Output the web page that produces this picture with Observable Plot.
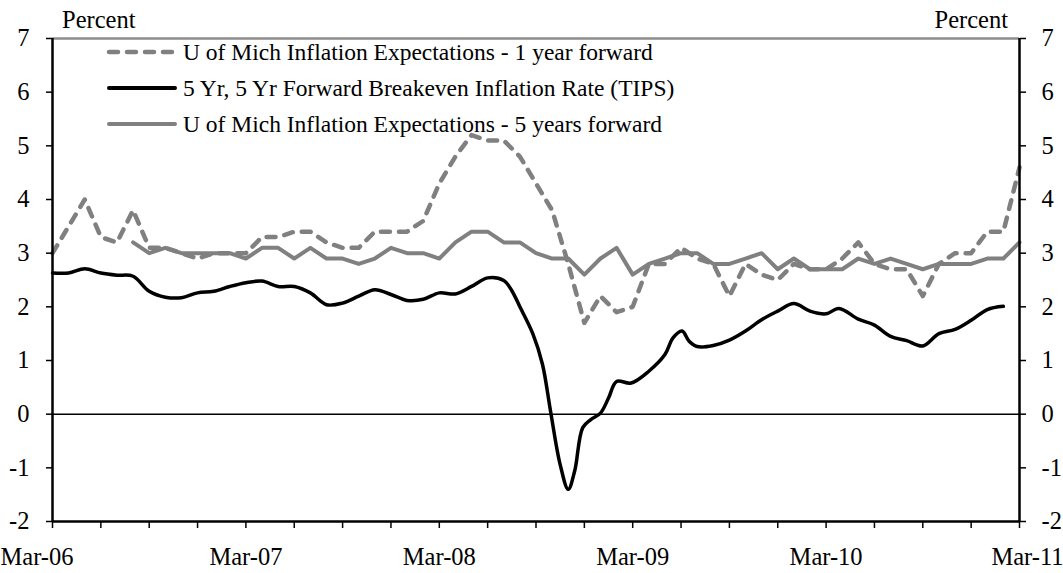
<!DOCTYPE html>
<html>
<head>
<meta charset="utf-8">
<script src="https://cdn.jsdelivr.net/npm/d3@7"></script>
<script src="https://cdn.jsdelivr.net/npm/@observablehq/plot@0.6"></script>
<style>
  html, body { margin: 0; padding: 0; background: #fff; }
  #chart { position: relative; width: 1063px; height: 573px; }
</style>
</head>
<body>
<div id="chart"></div>
<script>
// Month index 0 = Mar-06 ... 60 = Mar-11
const xTickLabels = ["Mar-06", "Mar-07", "Mar-08", "Mar-09", "Mar-10", "Mar-11"];
const xTickLabelMonths = [0, 12, 24, 36, 48, 60];
const yTicks = [-2, -1, 0, 1, 2, 3, 4, 5, 6, 7];

const seriesNames = [
  "U of Mich Inflation Expectations - 1 year forward",
  "5 Yr, 5 Yr Forward Breakeven Inflation Rate (TIPS)",
  "U of Mich Inflation Expectations - 5 years forward"
];

// U of Mich 1-year (monthly, m = 0..60)
const umich1 = [3.0,3.5,4.0,3.3,3.2,3.8,3.1,3.1,3.0,2.9,3.0,3.0,3.0,3.3,3.3,3.4,3.4,3.2,3.1,3.1,
  3.4,3.4,3.4,3.6,4.3,4.8,5.2,5.1,5.1,4.8,4.3,3.8,2.8,1.7,2.2,1.9,2.0,2.8,2.8,3.1,
  2.9,2.8,2.2,2.8,2.6,2.5,2.8,2.7,2.7,2.9,3.2,2.8,2.7,2.7,2.2,2.8,3.0,3.0,3.4,3.4,4.6];

// U of Mich 5-year (monthly, starting m = 5)
const umich5Start = 5;
const umich5 = [3.2,3.0,3.1,3.0,3.0,3.0,3.0,2.9,3.1,3.1,2.9,3.1,2.9,2.9,2.8,2.9,3.1,3.0,3.0,2.9,
  3.2,3.4,3.4,3.2,3.2,3.0,2.9,2.9,2.6,2.9,3.1,2.6,2.8,2.9,3.0,3.0,2.8,2.8,2.9,3.0,
  2.7,2.9,2.7,2.7,2.7,2.9,2.8,2.9,2.8,2.7,2.8,2.8,2.8,2.9,2.9,3.2];

// 5y5y forward breakeven (TIPS): month index and value
const tipsMonths = [0,1,2,3,4,5,6,7,8,9,10,11,12,13,14,15,16,17,18,19,20,21,22,23,24,25,26,27,28,28.5,29,29.8,
  30.4,30.9,31.5,32,32.4,32.9,33.4,34,34.5,35,35.9,37,38,38.5,39.06,39.5,40,41,42,43,44,45,46,47,48,48.8,50,51,52,53,54,55,56,57,58,59];
const tipsValues = [2.63,2.63,2.71,2.63,2.59,2.57,2.29,2.18,2.17,2.26,2.29,2.38,2.45,2.48,2.38,2.38,2.26,2.04,2.07,2.2,
  2.32,2.23,2.12,2.14,2.26,2.24,2.38,2.54,2.49,2.3,2.0,1.5,
  0.93,0.06,-0.94,-1.4,-1.06,-0.25,-0.1,0.02,0.3,0.61,0.58,0.8,1.11,1.42,1.55,1.36,1.26,1.28,1.38,1.55,1.76,1.92,2.06,1.92,1.87,1.97,1.77,1.66,1.45,1.37,1.27,1.5,1.58,1.75,1.95,2.01];

const d1 = umich1.map((v, i) => ({m: i, v}));
const d5 = umich5.map((v, i) => ({m: i + umich5Start, v}));
const dT = tipsMonths.map((m, i) => ({m, v: tipsValues[i]}));
const xLab = xTickLabelMonths.map((m, i) => ({m, label: xTickLabels[i]}));

const GRAY = "#808080";
const FONT = '"Liberation Serif", "Times New Roman", serif';
const FS = 24.5;     // axis / unit labels
const LFS = 23.5;    // legend
const DASH = "9,9";

const plot = Plot.plot({
  width: 1063,
  height: 573,
  marginLeft: 52,
  marginRight: 44,
  marginTop: 38,
  marginBottom: 52,
  style: { fontFamily: FONT, fontSize: FS + "px", background: "white", color: "black", overflow: "visible" },
  x: { domain: [0, 60] },
  y: { domain: [-2, 7] },
  marks: [
    Plot.ruleY([7], { stroke: "#8c8c8c", strokeWidth: 2.5 }),
    Plot.ruleY([0], { stroke: "black", strokeWidth: 1.5 }),
    Plot.line(d5, { x: "m", y: "v", stroke: GRAY, strokeWidth: 4 }),
    Plot.line(d1, { x: "m", y: "v", stroke: GRAY, strokeWidth: 4.5, strokeDasharray: DASH, strokeLinecap: "round" }),
    Plot.line(dT, { x: "m", y: "v", stroke: "black", strokeWidth: 3.5, curve: "catmull-rom" }),
    Plot.ruleX([0], { stroke: "black", strokeWidth: 2.5 }),
    Plot.ruleX([60], { stroke: "black", strokeWidth: 2.5 }),
    Plot.ruleY([-2], { stroke: "black", strokeWidth: 2.5 }),
    Plot.axisY({ anchor: "left", ticks: yTicks, tickSize: 6, tickPadding: 17, tickFormat: d => String(d), label: null, strokeWidth: 1.5, fontSize: FS }),
    Plot.axisY({ anchor: "right", ticks: yTicks, tickSize: 6, tickPadding: 16, tickFormat: d => String(d), label: null, strokeWidth: 1.5, fontSize: FS }),
    Plot.axisX({ ticks: d3.range(0, 61, 3), tickSize: 7, tickFormat: () => "", label: null, strokeWidth: 1.5 }),
    Plot.text(xLab.filter(d => d.m === 0), { x: "m", y: () => -2, text: "label", dy: 36, dx: -52, textAnchor: "start", fontSize: FS }),
    Plot.text(xLab.filter(d => d.m > 0 && d.m < 60), { x: "m", y: () => -2, text: "label", dy: 36, textAnchor: "middle", fontSize: FS }),
    Plot.text(xLab.filter(d => d.m === 60), { x: "m", y: () => -2, text: "label", dy: 36, dx: 44, textAnchor: "end", fontSize: FS })
  ]
});

document.getElementById("chart").appendChild(plot);

// Unit labels and legend
const svg = d3.select(plot);
svg.append("text").attr("x", 62).attr("y", 28).attr("text-anchor", "start")
  .attr("font-family", FONT).attr("font-size", FS).text("Percent");
svg.append("text").attr("x", 1008).attr("y", 28).attr("text-anchor", "end")
  .attr("font-family", FONT).attr("font-size", FS).text("Percent");

const legendRows = [
  { name: seriesNames[0], stroke: GRAY, dash: DASH, width: 4.5 },
  { name: seriesNames[1], stroke: "black", dash: null, width: 4 },
  { name: seriesNames[2], stroke: GRAY, dash: null, width: 4 }
];
const lg = svg.append("g");
legendRows.forEach((r, i) => {
  const y = 52 + i * 36;
  const ln = lg.append("line").attr("x1", 109).attr("x2", 175).attr("y1", y).attr("y2", y)
    .attr("stroke", r.stroke).attr("stroke-width", r.width).attr("stroke-linecap", "round");
  if (r.dash) ln.attr("stroke-dasharray", r.dash);
  lg.append("text").attr("x", 183).attr("y", y).attr("dy", "0.35em").attr("text-anchor", "start")
    .attr("font-family", FONT).attr("font-size", LFS).text(r.name);
});
</script>
</body>
</html>
